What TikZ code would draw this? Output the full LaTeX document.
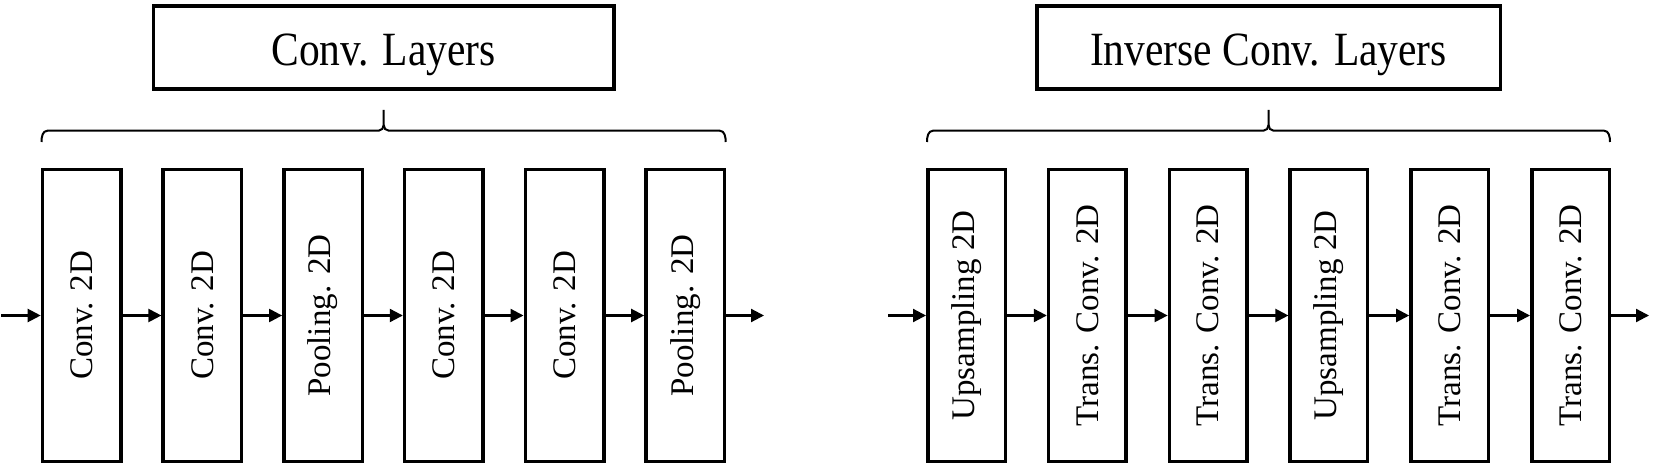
\documentclass[tikz,border=0pt]{standalone}
\usepackage{fontspec}
\setmainfont{Liberation Serif}
\usetikzlibrary{arrows.meta}
\newcommand{\tallt}[1]{\scalebox{1}[1.15]{#1}}
\tikzset{
  layerbox/.style={draw=black, line width=3.5pt, minimum width=78.5pt, minimum height=291.5pt, inner sep=0pt, font=\fontsize{33}{40}\selectfont},
  titlebox/.style={draw=black, line width=3.5pt, minimum height=83.2pt, inner sep=0pt, text height=37pt, text depth=0pt, font=\fontsize{41.5}{48}\selectfont},
  arr/.style={line width=2.2pt, -{Triangle[length=13pt,width=13pt]}},
  bracestyle/.style={line width=2pt}
}
\begin{document}
\begin{tikzpicture}[x=1pt,y=1pt]
\useasboundingbox (0,0) rectangle (1653,469);
% title boxes
\node[titlebox, minimum width=460.5pt] (t1) at (383.7,421.6) {\tallt{Conv. Layers}};
\node[titlebox, minimum width=463.5pt] (t2) at (1268.5,421.6) {\tallt{Inverse Conv. Layers}};
% left group
\foreach \i/\txt in {1/Conv. 2D, 2/Conv. 2D, 3/Pooling. 2D, 4/Conv. 2D, 5/Conv. 2D, 6/Pooling. 2D}{
  \node[layerbox] (c\i) at ({81.7+(\i-1)*120.7},153.5) {\rotatebox{90}{\txt}};
}
% right group
\foreach \i/\txt in {1/Upsampling 2D, 2/Trans. Conv. 2D, 3/Trans. Conv. 2D, 4/Upsampling 2D, 5/Trans. Conv. 2D, 6/Trans. Conv. 2D}{
  \node[layerbox, minimum width=77.5pt] (d\i) at ({966.5+(\i-1)*120.8},153.5) {\rotatebox{90}{\txt}};
}
% free ends
\coordinate (in1) at (1,153.5);
\coordinate (out1) at (764,153.5);
\coordinate (in2) at (888,153.5);
\coordinate (out2) at (1649,153.5);
% connectors
\draw[arr] (in1) -- (c1);
\draw[arr] (c1) -- (c2);
\draw[arr] (c2) -- (c3);
\draw[arr] (c3) -- (c4);
\draw[arr] (c4) -- (c5);
\draw[arr] (c5) -- (c6);
\draw[arr] (c6) -- (out1);
\draw[arr] (in2) -- (d1);
\draw[arr] (d1) -- (d2);
\draw[arr] (d2) -- (d3);
\draw[arr] (d3) -- (d4);
\draw[arr] (d4) -- (d5);
\draw[arr] (d5) -- (d6);
\draw[arr] (d6) -- (out2);
% braces
\draw[bracestyle] (41.5,327) to[out=90,in=180] (47.5,338.3) -- (378.7,338.3) to[out=0,in=-90] (383.7,344) -- (383.7,359);
\draw[bracestyle] (383.7,344) to[out=-90,in=180] (388.7,338.3) -- (719.7,338.3) to[out=0,in=90] (725.7,327);
\draw[bracestyle] (927,327) to[out=90,in=180] (933,338.3) -- (1263.5,338.3) to[out=0,in=-90] (1268.5,344) -- (1268.5,359);
\draw[bracestyle] (1268.5,344) to[out=-90,in=180] (1273.5,338.3) -- (1604,338.3) to[out=0,in=90] (1610,327);
\end{tikzpicture}
\end{document}
